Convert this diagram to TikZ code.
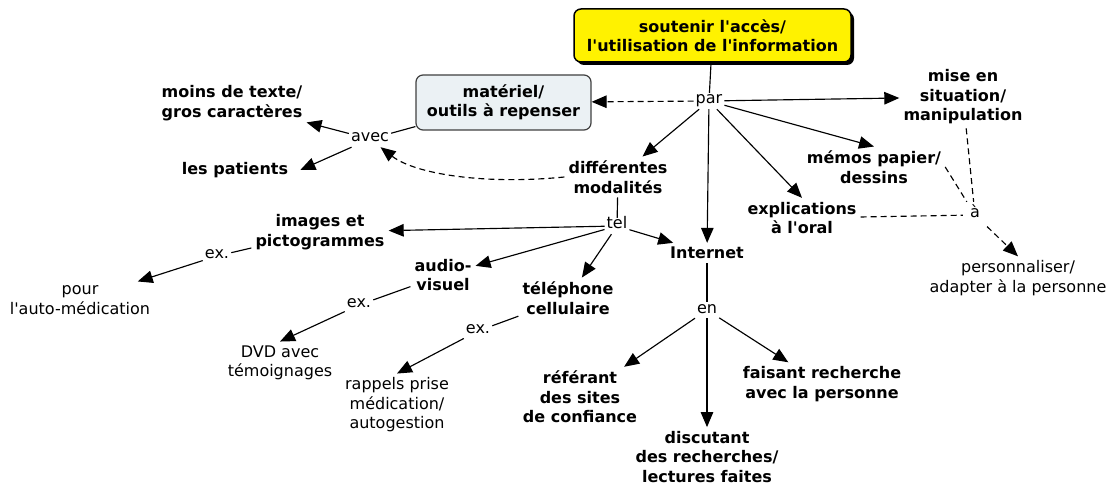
\documentclass[tikz,border=0pt]{standalone}
\usepackage{fontspec}
\setmainfont{DejaVu Sans}
\usetikzlibrary{arrows.meta,shadows}
\definecolor{matfill}{HTML}{EBF1F4}
% straight apostrophe
\newcommand{\ap}{\textquotesingle}
\begin{document}
\begin{tikzpicture}[x=1pt,y=-1pt,
  txt/.style={font=\fontsize{16}{19.5}\selectfont, align=center, inner sep=4pt},
  concept/.style={txt, font=\fontsize{16}{19.5}\selectfont\bfseries},
  lp/.style={font=\fontsize{16}{19.5}\selectfont, inner sep=2pt, text height=9pt, text depth=3pt},
  link/.style={line width=1.15pt},
  arr/.style={link, -{Triangle[length=15pt,width=12.5pt]}},
  dsh/.style={dash pattern=on 6pt off 4pt}]
\useasboundingbox (0,0) rectangle (1112,489);

% boxed concepts
\node[concept, draw=black, line width=1.5pt, fill=yellow, rounded corners=7pt,
      minimum width=277pt, minimum height=53pt,
      drop shadow={shadow xshift=3pt,shadow yshift=-3pt,fill=black,opacity=1}]
      (main) at (712.5,35.5) {soutenir l\ap accès/\\l\ap utilisation de l\ap information};
\node[concept, draw=black!75, line width=1.2pt, fill=matfill, rounded corners=7pt,
      minimum width=175pt, minimum height=55pt]
      (mat) at (503.5,102.5) {matériel/\\outils à repenser};

% plain concepts
\node[concept] (mise)  at (963,97)  {mise en\\situation/\\manipulation};
\node[concept] (memos) at (874,167) {mémos papier/\\dessins};
\node[concept] (mod)   at (618,177) {différentes\\modalités};
\node[concept] (expl)  at (802,218) {explications\\à l\ap oral};
\node[concept] (inet)  at (707,253) {Internet};
\node[concept] (moins) at (232,103) {moins de texte/\\gros caractères};
\node[concept, inner xsep=12pt] (pat) at (235,170) {les patients};
\node[concept] (img)   at (320,232) {images et\\pictogrammes};
\node[concept] (audio) at (443,275) {audio-\\visuel};
\node[concept] (tele)  at (568,298) {téléphone\\cellulaire};
\node[concept] (ref)   at (580,397) {référant\\des sites\\de confiance};
\node[concept] (disc)  at (707,457) {discutant\\des recherches/\\lectures faites};
\node[concept] (fais)  at (822,384) {faisant recherche\\avec la personne};
\node[txt] (pour) at (80,300)   {pour\\l\ap auto-médication};
\node[txt] (dvd)  at (280,363)  {DVD avec\\témoignages};
\node[txt] (rapp) at (397,405)  {rappels prise\\médication/\\autogestion};
\node[txt] (pers) at (1018,278) {personnaliser/\\adapter à la personne};

% linking phrases
\node[lp] (par)  at (709,101) {par};
\node[lp] (avec) at (370,139) {avec};
\node[lp] (tel)  at (617,226) {tel};
\node[lp] (ex1)  at (217,256) {ex.};
\node[lp] (ex2)  at (359,305) {ex.};
\node[lp] (ex3)  at (478,331) {ex.};
\node[lp] (en)   at (707,310) {en};
\node[lp, inner sep=7pt] (a) at (975,215) {à};

% connectors
\draw[link] (main) -- (par);
\draw[arr,dsh] (par) -- (mat);
\draw[arr] (par) -- (mise);
\draw[arr] (par) -- (memos.north);
\draw[arr] (par) -- (mod);
\draw[arr] (par) -- (expl.north);
\draw[arr] (par) -- (inet);

\draw[link] (mat) -- (avec);
\draw[arr] (avec) -- (moins);
\draw[arr] (avec) -- (pat.east);
\draw[arr,dsh] (mod.west) .. controls +(-80,8) and +(45,35) .. (avec);

\draw[link] (mod) -- (tel);
\draw[arr] (tel) -- (img);
\draw[arr] (tel) -- (inet);
\draw[arr] (tel) -- (audio);
\draw[arr] (tel) -- (tele);

\draw[link] (img) -- (ex1);
\draw[arr] (ex1) -- (pour);
\draw[link] (audio) -- (ex2);
\draw[arr] (ex2) -- (dvd.north);
\draw[link] (tele) -- (ex3);
\draw[arr] (ex3) -- (rapp.north);

\draw[link] (inet) -- (en);
\draw[arr] (en) -- (ref);
\draw[arr] (en) -- (disc);
\draw[arr] (en) -- (fais);

\draw[link,dsh] (mise) -- (a);
\draw[link,dsh] (memos.east) -- (a);
\draw[link,dsh] (expl) -- (a);
\draw[arr,dsh] (a) -- (pers.north);
\end{tikzpicture}
\end{document}
